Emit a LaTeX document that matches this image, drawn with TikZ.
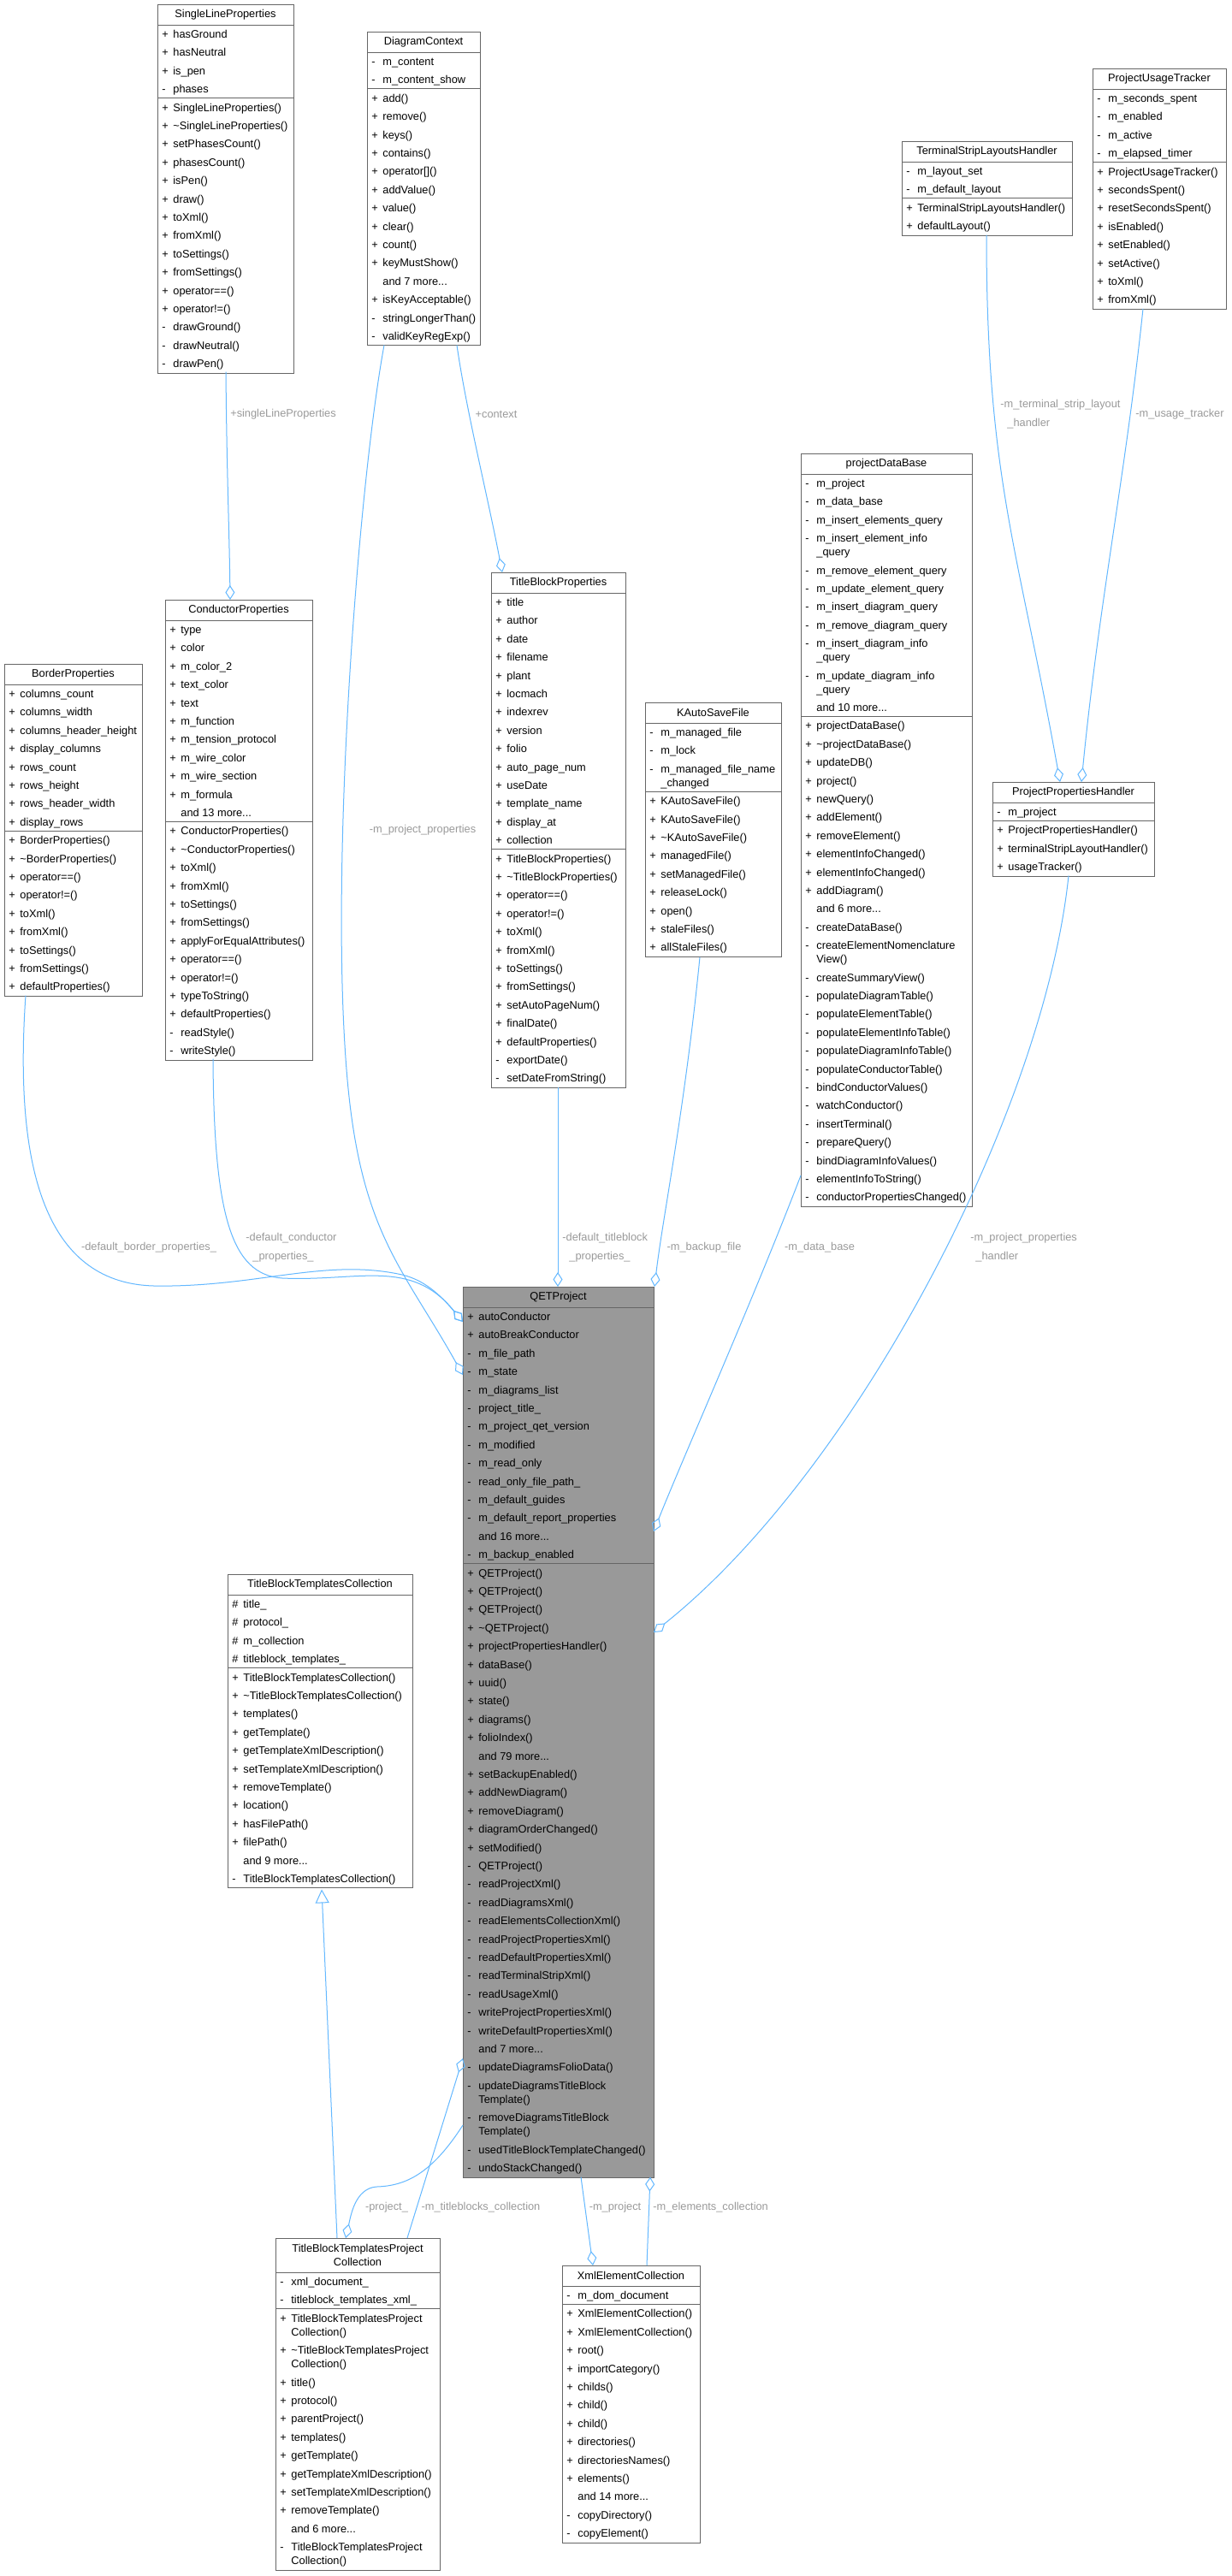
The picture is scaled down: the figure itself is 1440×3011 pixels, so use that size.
\documentclass[tikz,border=0pt]{standalone}
\usepackage{fontspec}
\setmainfont{Liberation Sans}
\usetikzlibrary{arrows.meta}
\definecolor{boxc}{HTML}{666666}
\definecolor{edgec}{HTML}{63B8FF}
\definecolor{labc}{HTML}{9A9A9A}
\definecolor{qetfill}{HTML}{999999}
\newcommand\tfont{\fontsize{6.4pt}{10.7pt}\selectfont}
\newcommand\itm[2]{\makebox[6.5pt][l]{#1}#2}
\newcommand\cnt[1]{\makebox[6.5pt]{}#1}
\newcommand\cls[8]{%
  \node[draw=boxc, fill=#8, line width=0.5pt, inner sep=0pt, anchor=north west,
        minimum width={(#3-#2)*0.5pt}, minimum height={(#5+#6+#7)*0.5pt}] (#1) at (#2,#4) {};
  \draw[boxc, line width=0.5pt] (#2,{#4+#5}) -- (#3,{#4+#5});
  \draw[boxc, line width=0.5pt] (#2,{#4+#5+#6}) -- (#3,{#4+#5+#6});
  \def\cX{#2}\def\cXX{#3}\def\cY{#4}\def\cH{#5}\def\cA{#6}}
\newcommand\clstext[3]{%
  \node[font=\tfont, align=center, inner sep=0pt] at ({(\cX+\cXX)/2},{\cY+\cH/2}) {#1};
  \node[font=\tfont, align=left, inner sep=0pt, anchor=north west] at ({\cX+5},{\cY+\cH}) {\rule{0pt}{7.5pt}#2};
  \node[font=\tfont, align=left, inner sep=0pt, anchor=north west] at ({\cX+5},{\cY+\cH+\cA}) {\rule{0pt}{7.5pt}#3};}
\tikzset{
  agg/.style={draw=edgec, line width=0.5pt, -{Diamond[open, length=8.5pt, width=5.5pt]}},
  inh/.style={draw=edgec, line width=0.5pt, -{Triangle[open, length=8pt, width=8pt]}},
  lab/.style={font=\tfont, text=labc, inner sep=0pt, align=left}
}
\begin{document}
\begin{tikzpicture}[x=0.5pt,y=-0.5pt]
\useasboundingbox (0,0) rectangle (1440,3011);
\fill[white] (0,0) rectangle (1440,3011);

% SingleLineProperties
\cls{slp}{184}{343}{5}{24}{85.6}{321}{white}
\clstext{SingleLineProperties}{\itm{+}{hasGround}\\\itm{+}{hasNeutral}\\\itm{+}{is\_pen}\\\itm{-}{phases}}
{\itm{+}{SingleLineProperties()}\\\itm{+}{\textasciitilde SingleLineProperties()}\\\itm{+}{setPhasesCount()}\\\itm{+}{phasesCount()}\\\itm{+}{isPen()}\\\itm{+}{draw()}\\\itm{+}{toXml()}\\\itm{+}{fromXml()}\\\itm{+}{toSettings()}\\\itm{+}{fromSettings()}\\\itm{+}{operator==()}\\\itm{+}{operator!=()}\\\itm{-}{drawGround()}\\\itm{-}{drawNeutral()}\\\itm{-}{drawPen()}}

% DiagramContext
\cls{dc}{429}{561}{37}{24}{42.8}{299.6}{white}
\clstext{DiagramContext}{\itm{-}{m\_content}\\\itm{-}{m\_content\_show}}
{\itm{+}{add()}\\\itm{+}{remove()}\\\itm{+}{keys()}\\\itm{+}{contains()}\\\itm{+}{operator[]()}\\\itm{+}{addValue()}\\\itm{+}{value()}\\\itm{+}{clear()}\\\itm{+}{count()}\\\itm{+}{keyMustShow()}\\\itm{}{and 7 more...}\\\itm{+}{isKeyAcceptable()}\\\itm{-}{stringLongerThan()}\\\itm{-}{validKeyRegExp()}}

% TitleBlockProperties
\cls{tbp}{574}{731}{669}{24}{299.6}{278.2}{white}
\clstext{TitleBlockProperties}{\itm{+}{title}\\\itm{+}{author}\\\itm{+}{date}\\\itm{+}{filename}\\\itm{+}{plant}\\\itm{+}{locmach}\\\itm{+}{indexrev}\\\itm{+}{version}\\\itm{+}{folio}\\\itm{+}{auto\_page\_num}\\\itm{+}{useDate}\\\itm{+}{template\_name}\\\itm{+}{display\_at}\\\itm{+}{collection}}
{\itm{+}{TitleBlockProperties()}\\\itm{+}{\textasciitilde TitleBlockProperties()}\\\itm{+}{operator==()}\\\itm{+}{operator!=()}\\\itm{+}{toXml()}\\\itm{+}{fromXml()}\\\itm{+}{toSettings()}\\\itm{+}{fromSettings()}\\\itm{+}{setAutoPageNum()}\\\itm{+}{finalDate()}\\\itm{+}{defaultProperties()}\\\itm{-}{exportDate()}\\\itm{-}{setDateFromString()}}

% BorderProperties
\cls{bp}{5}{166}{776}{24}{171.2}{192.6}{white}
\clstext{BorderProperties}{\itm{+}{columns\_count}\\\itm{+}{columns\_width}\\\itm{+}{columns\_header\_height}\\\itm{+}{display\_columns}\\\itm{+}{rows\_count}\\\itm{+}{rows\_height}\\\itm{+}{rows\_header\_width}\\\itm{+}{display\_rows}}
{\itm{+}{BorderProperties()}\\\itm{+}{\textasciitilde BorderProperties()}\\\itm{+}{operator==()}\\\itm{+}{operator!=()}\\\itm{+}{toXml()}\\\itm{+}{fromXml()}\\\itm{+}{toSettings()}\\\itm{+}{fromSettings()}\\\itm{+}{defaultProperties()}}

% ConductorProperties
\cls{cp}{193}{365}{701}{24}{235.4}{278.2}{white}
\clstext{ConductorProperties}{\itm{+}{type}\\\itm{+}{color}\\\itm{+}{m\_color\_2}\\\itm{+}{text\_color}\\\itm{+}{text}\\\itm{+}{m\_function}\\\itm{+}{m\_tension\_protocol}\\\itm{+}{m\_wire\_color}\\\itm{+}{m\_wire\_section}\\\itm{+}{m\_formula}\\\itm{}{and 13 more...}}
{\itm{+}{ConductorProperties()}\\\itm{+}{\textasciitilde ConductorProperties()}\\\itm{+}{toXml()}\\\itm{+}{fromXml()}\\\itm{+}{toSettings()}\\\itm{+}{fromSettings()}\\\itm{+}{applyForEqualAttributes()}\\\itm{+}{operator==()}\\\itm{+}{operator!=()}\\\itm{+}{typeToString()}\\\itm{+}{defaultProperties()}\\\itm{-}{readStyle()}\\\itm{-}{writeStyle()}}

% TerminalStripLayoutsHandler
\cls{tslh}{1054}{1253}{165}{24}{42.8}{42.8}{white}
\clstext{TerminalStripLayoutsHandler}{\itm{-}{m\_layout\_set}\\\itm{-}{m\_default\_layout}}
{\itm{+}{TerminalStripLayoutsHandler()}\\\itm{+}{defaultLayout()}}

% ProjectUsageTracker
\cls{put}{1277}{1433}{80}{24}{85.6}{171.2}{white}
\clstext{ProjectUsageTracker}{\itm{-}{m\_seconds\_spent}\\\itm{-}{m\_enabled}\\\itm{-}{m\_active}\\\itm{-}{m\_elapsed\_timer}}
{\itm{+}{ProjectUsageTracker()}\\\itm{+}{secondsSpent()}\\\itm{+}{resetSecondsSpent()}\\\itm{+}{isEnabled()}\\\itm{+}{setEnabled()}\\\itm{+}{setActive()}\\\itm{+}{toXml()}\\\itm{+}{fromXml()}}

% projectDataBase
\cls{pdb}{936}{1136}{530}{24}{283.4}{572.4}{white}
\clstext{projectDataBase}{\itm{-}{m\_project}\\\itm{-}{m\_data\_base}\\\itm{-}{m\_insert\_elements\_query}\\\itm{-}{m\_insert\_element\_info}\\[-2.7pt]\cnt{\_query}\\\itm{-}{m\_remove\_element\_query}\\\itm{-}{m\_update\_element\_query}\\\itm{-}{m\_insert\_diagram\_query}\\\itm{-}{m\_remove\_diagram\_query}\\\itm{-}{m\_insert\_diagram\_info}\\[-2.7pt]\cnt{\_query}\\\itm{-}{m\_update\_diagram\_info}\\[-2.7pt]\cnt{\_query}\\\itm{}{and 10 more...}}
{\itm{+}{projectDataBase()}\\\itm{+}{\textasciitilde projectDataBase()}\\\itm{+}{updateDB()}\\\itm{+}{project()}\\\itm{+}{newQuery()}\\\itm{+}{addElement()}\\\itm{+}{removeElement()}\\\itm{+}{elementInfoChanged()}\\\itm{+}{elementInfoChanged()}\\\itm{+}{addDiagram()}\\\itm{}{and 6 more...}\\\itm{-}{createDataBase()}\\\itm{-}{createElementNomenclature}\\[-2.7pt]\cnt{View()}\\\itm{-}{createSummaryView()}\\\itm{-}{populateDiagramTable()}\\\itm{-}{populateElementTable()}\\\itm{-}{populateElementInfoTable()}\\\itm{-}{populateDiagramInfoTable()}\\\itm{-}{populateConductorTable()}\\\itm{-}{bindConductorValues()}\\\itm{-}{watchConductor()}\\\itm{-}{insertTerminal()}\\\itm{-}{prepareQuery()}\\\itm{-}{bindDiagramInfoValues()}\\\itm{-}{elementInfoToString()}\\\itm{-}{conductorPropertiesChanged()}}

% KAutoSaveFile
\cls{kas}{754}{913}{821}{24}{80.2}{192.6}{white}
\clstext{KAutoSaveFile}{\itm{-}{m\_managed\_file}\\\itm{-}{m\_lock}\\\itm{-}{m\_managed\_file\_name}\\[-2.7pt]\cnt{\_changed}}
{\itm{+}{KAutoSaveFile()}\\\itm{+}{KAutoSaveFile()}\\\itm{+}{\textasciitilde KAutoSaveFile()}\\\itm{+}{managedFile()}\\\itm{+}{setManagedFile()}\\\itm{+}{releaseLock()}\\\itm{+}{open()}\\\itm{+}{staleFiles()}\\\itm{+}{allStaleFiles()}}

% ProjectPropertiesHandler
\cls{pph}{1160}{1349}{914}{24}{21.4}{64.2}{white}
\clstext{ProjectPropertiesHandler}{\itm{-}{m\_project}}
{\itm{+}{ProjectPropertiesHandler()}\\\itm{+}{terminalStripLayoutHandler()}\\\itm{+}{usageTracker()}}

% QETProject
\cls{qp}{541}{764}{1504}{24}{299.6}{717}{qetfill}
\clstext{QETProject}{\itm{+}{autoConductor}\\\itm{+}{autoBreakConductor}\\\itm{-}{m\_file\_path}\\\itm{-}{m\_state}\\\itm{-}{m\_diagrams\_list}\\\itm{-}{project\_title\_}\\\itm{-}{m\_project\_qet\_version}\\\itm{-}{m\_modified}\\\itm{-}{m\_read\_only}\\\itm{-}{read\_only\_file\_path\_}\\\itm{-}{m\_default\_guides}\\\itm{-}{m\_default\_report\_properties}\\\itm{}{and 16 more...}\\\itm{-}{m\_backup\_enabled}}
{\itm{+}{QETProject()}\\\itm{+}{QETProject()}\\\itm{+}{QETProject()}\\\itm{+}{\textasciitilde QETProject()}\\\itm{+}{projectPropertiesHandler()}\\\itm{+}{dataBase()}\\\itm{+}{uuid()}\\\itm{+}{state()}\\\itm{+}{diagrams()}\\\itm{+}{folioIndex()}\\\itm{}{and 79 more...}\\\itm{+}{setBackupEnabled()}\\\itm{+}{addNewDiagram()}\\\itm{+}{removeDiagram()}\\\itm{+}{diagramOrderChanged()}\\\itm{+}{setModified()}\\\itm{-}{QETProject()}\\\itm{-}{readProjectXml()}\\\itm{-}{readDiagramsXml()}\\\itm{-}{readElementsCollectionXml()}\\\itm{-}{readProjectPropertiesXml()}\\\itm{-}{readDefaultPropertiesXml()}\\\itm{-}{readTerminalStripXml()}\\\itm{-}{readUsageXml()}\\\itm{-}{writeProjectPropertiesXml()}\\\itm{-}{writeDefaultPropertiesXml()}\\\itm{}{and 7 more...}\\\itm{-}{updateDiagramsFolioData()}\\\itm{-}{updateDiagramsTitleBlock}\\[-2.7pt]\cnt{Template()}\\\itm{-}{removeDiagramsTitleBlock}\\[-2.7pt]\cnt{Template()}\\\itm{-}{usedTitleBlockTemplateChanged()}\\\itm{-}{undoStackChanged()}}

% TitleBlockTemplatesCollection
\cls{tbtc}{266}{482}{1840}{24}{85.6}{256.8}{white}
\clstext{TitleBlockTemplatesCollection}{\itm{\#}{title\_}\\\itm{\#}{protocol\_}\\\itm{\#}{m\_collection}\\\itm{\#}{titleblock\_templates\_}}
{\itm{+}{TitleBlockTemplatesCollection()}\\\itm{+}{\textasciitilde TitleBlockTemplatesCollection()}\\\itm{+}{templates()}\\\itm{+}{getTemplate()}\\\itm{+}{getTemplateXmlDescription()}\\\itm{+}{setTemplateXmlDescription()}\\\itm{+}{removeTemplate()}\\\itm{+}{location()}\\\itm{+}{hasFilePath()}\\\itm{+}{filePath()}\\\itm{}{and 9 more...}\\\itm{-}{TitleBlockTemplatesCollection()}}

% TitleBlockTemplatesProjectCollection
\cls{tbtpc}{322}{514}{2616}{40}{42.8}{304.8}{white}
\clstext{TitleBlockTemplatesProject\\[-2.7pt]Collection}{\itm{-}{xml\_document\_}\\\itm{-}{titleblock\_templates\_xml\_}}
{\itm{+}{TitleBlockTemplatesProject}\\[-2.7pt]\cnt{Collection()}\\\itm{+}{\textasciitilde TitleBlockTemplatesProject}\\[-2.7pt]\cnt{Collection()}\\\itm{+}{title()}\\\itm{+}{protocol()}\\\itm{+}{parentProject()}\\\itm{+}{templates()}\\\itm{+}{getTemplate()}\\\itm{+}{getTemplateXmlDescription()}\\\itm{+}{setTemplateXmlDescription()}\\\itm{+}{removeTemplate()}\\\itm{}{and 6 more...}\\\itm{-}{TitleBlockTemplatesProject}\\[-2.7pt]\cnt{Collection()}}

% XmlElementCollection
\cls{xec}{657}{818}{2648}{24}{21.4}{278.2}{white}
\clstext{XmlElementCollection}{\itm{-}{m\_dom\_document}}
{\itm{+}{XmlElementCollection()}\\\itm{+}{XmlElementCollection()}\\\itm{+}{root()}\\\itm{+}{importCategory()}\\\itm{+}{childs()}\\\itm{+}{child()}\\\itm{+}{child()}\\\itm{+}{directories()}\\\itm{+}{directoriesNames()}\\\itm{+}{elements()}\\\itm{}{and 14 more...}\\\itm{-}{copyDirectory()}\\\itm{-}{copyElement()}}

% connector end points
\coordinate (slpB) at (264,434.6);
\coordinate (cpT) at (269,701);
\coordinate (dcB1) at (449,403.4);
\coordinate (dcB2) at (534,403.4);
\coordinate (tbpT) at (587,669);
\coordinate (tbpB) at (652,1270.8);
\coordinate (qpT1) at (652,1504);
\coordinate (kasB) at (818,1118.8);
\coordinate (qpT2) at (765,1504);
\coordinate (pdbL) at (936,1374);
\coordinate (qpR1) at (764,1790);
\coordinate (pphB) at (1249,1023.6);
\coordinate (qpR2) at (764,1908);
\coordinate (tslhB) at (1153,274.6);
\coordinate (pphT1) at (1239,914);
\coordinate (putB) at (1336,360.8);
\coordinate (pphT2) at (1264,914);
\coordinate (bpB) at (30,1163.6);
\coordinate (cpB) at (249,1237.6);
\coordinate (qpL1) at (541,1545);
\coordinate (qpL2) at (541,1607);
\coordinate (qpL3) at (541,2484);
\coordinate (qpL4) at (541,2406);
\coordinate (tbtpcT1) at (404,2616);
\coordinate (tbtpcT2) at (476,2616);
\coordinate (tbtpcT3) at (394,2616);
\coordinate (tbtcB) at (376,2208.4);
\coordinate (qpB1) at (679,2544.6);
\coordinate (qpB2) at (760,2544.6);
\coordinate (xecT1) at (693,2648);
\coordinate (xecT2) at (756,2648);

% connectors
\draw[agg] (slpB) .. controls (265,550) and (268,620) .. (cpT);
\node[lab] at (331,484) {+singleLineProperties};
\draw[agg] (dcB1) .. controls (420,560) and (385,1000) .. (405,1250) .. controls (420,1440) and (470,1480) .. (qpL2);
\node[lab] at (494,970) {-m\_project\_properties};
\draw[agg] (dcB2) .. controls (545,480) and (570,580) .. (tbpT);
\node[lab] at (580,484) {+context};
\draw[agg] (tbpB) -- (qpT1);
\node[lab, anchor=west] at (657,1458) {-default\_titleblock\\\hspace{4pt}\_properties\_};
\draw[agg] (kasB) .. controls (800,1300) and (775,1420) .. (qpT2);
\node[lab] at (823,1458) {-m\_backup\_file};
\draw[agg] (pdbL) .. controls (880,1520) and (800,1700) .. (qpR1);
\node[lab] at (958,1458) {-m\_data\_base};
\draw[agg] (pphB) .. controls (1220,1300) and (1000,1720) .. (qpR2);
\node[lab, anchor=west] at (1134,1458) {-m\_project\_properties\\\hspace{3pt}\_handler};
\draw[agg] (tslhB) .. controls (1153,560) and (1190,640) .. (pphT1);
\node[lab, anchor=west] at (1169,484) {-m\_terminal\_strip\_layout\\\hspace{4pt}\_handler};
\draw[agg] (putB) .. controls (1315,560) and (1285,700) .. (pphT2);
\node[lab] at (1379,484) {-m\_usage\_tracker};
\draw[agg] (bpB) .. controls (15,1380) and (60,1500) .. (180,1503) .. controls (300,1505) and (380,1470) .. (470,1490) .. controls (500,1497) and (520,1520) .. (qpL1);
\node[lab] at (174,1458) {-default\_border\_properties\_};
\draw[agg] (cpB) .. controls (250,1420) and (270,1490) .. (330,1494) .. controls (420,1498) and (480,1470) .. (qpL1);
\node[lab, anchor=west] at (287,1458) {-default\_conductor\\\hspace{4pt}\_properties\_};
\draw[agg] (qpL3) .. controls (505,2540) and (475,2555) .. (440,2556) .. controls (415,2558) and (410,2590) .. (tbtpcT1);
\node[lab] at (452,2580) {-project\_};
\draw[agg] (tbtpcT2) -- (qpL4);
\node[lab] at (562,2580) {-m\_titleblocks\_collection};
\draw[inh] (tbtpcT3) -- (tbtcB);
\draw[agg] (qpB1) -- (xecT1);
\node[lab] at (719,2580) {-m\_project};
\draw[agg] (xecT2) -- (qpB2);
\node[lab, anchor=west] at (763,2580) {-m\_elements\_collection};
\end{tikzpicture}
\end{document}
